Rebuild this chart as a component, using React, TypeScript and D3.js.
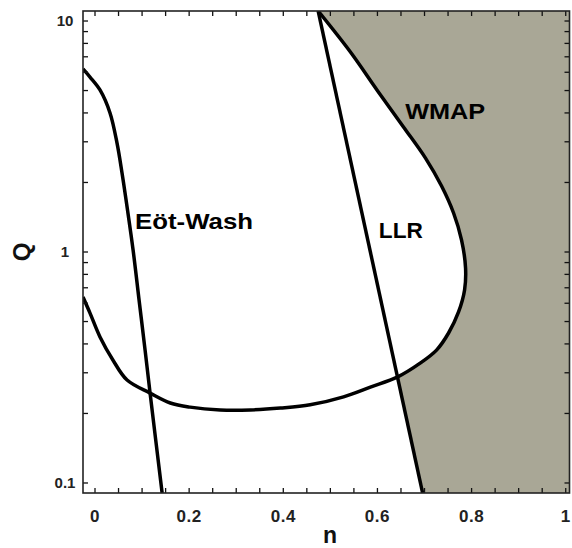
import React from "react";
import * as d3 from "d3";

// ---- data ----
const eotWashN = [-0.0255, -0.0106, 0.0106, 0.0319, 0.0468, 0.0574, 0.066, 0.0809, 0.0936, 0.1064, 0.117, 0.1426];
const eotWashQ = [6.2, 5.72, 5.03, 4.0, 2.96, 2.2, 1.68, 1.02, 0.62, 0.376, 0.245, 0.0905];

const wmapN = [-0.0255, -0.0106, 0.0106, 0.0383, 0.0681, 0.117, 0.16, 0.202, 0.266, 0.33, 0.394, 0.457, 0.528, 0.585, 0.643, 0.6915, 0.7255, 0.7511, 0.7723, 0.7851, 0.7872, 0.7787, 0.7617, 0.7362, 0.7021, 0.6553, 0.602, 0.5426, 0.474];
const wmapQ = [0.638, 0.544, 0.429, 0.34, 0.279, 0.245, 0.222, 0.213, 0.207, 0.207, 0.211, 0.218, 0.236, 0.26, 0.288, 0.331, 0.376, 0.446, 0.55, 0.685, 0.852, 1.127, 1.475, 1.93, 2.55, 3.48, 4.93, 7.34, 11.05];

const llrN = [0.474, 0.696];
const llrQ = [11.05, 0.0905];

const xTickValues = [0, 0.2, 0.4, 0.6, 0.8, 1];
const xTickLabels = ["0", "0.2", "0.4", "0.6", "0.8", "1"];
const xMinorValues = [0, 0.05, 0.1, 0.15, 0.2, 0.25, 0.3, 0.35, 0.4, 0.45, 0.5, 0.55, 0.6, 0.65, 0.7, 0.75, 0.8, 0.85, 0.9, 0.95, 1.0];
const yTickValues = [0.1, 1, 10];
const yTickLabels = ["0.1", "1", "10"];
const yMinorMultipliers = [2, 3, 4, 5, 6, 7, 8, 9];

const labelTexts = ["Eöt-Wash", "WMAP", "LLR"];
const labelN = [0.085, 0.659, 0.603];
const labelQ = [1.26, 3.75, 1.15];

export default function App() {
  const W = 572, H = 548;
  const left = 83, right = 569.5, top = 11, bottom = 493;
  const x = d3.scaleLinear().domain([-0.0255, 1.008]).range([left, right]);
  const y = d3.scaleLog().domain([0.0905, 11.05]).range([bottom, top]);

  const line = d3.line<[number, number]>().x(d => x(d[0])).y(d => y(d[1])).curve(d3.curveCatmullRom.alpha(0.5));
  const straight = d3.line<[number, number]>().x(d => x(d[0])).y(d => y(d[1]));

  const eot: [number, number][] = eotWashN.map((n, i) => [n, eotWashQ[i]]);
  const wmap: [number, number][] = wmapN.map((n, i) => [n, wmapQ[i]]);
  const llr: [number, number][] = llrN.map((n, i) => [n, llrQ[i]]);

  const [xd0, xd1] = x.domain();
  const [yd0, yd1] = y.domain();
  const grayPoly: [number, number][] = [llr[0], [xd1, yd1], [xd1, yd0], llr[1]];
  const whitePath = line(wmap) + ` L${x(xd0)},${y(yd1)} Z`;

  const yMinor: number[] = [];
  [0.01, 0.1, 1, 10].forEach(d => yMinorMultipliers.forEach(m => {
    const v = d * m;
    if (v > yd0 && v < yd1) yMinor.push(v);
  }));
  const tick = 5;
  const labelWidths = [118, 80, 44];

  return (
    <svg width={W} height={H} style={{ position: "absolute", left: 0, top: 0, background: "#fff" }}
      fontFamily="'Liberation Sans', Arial, sans-serif" fontWeight="bold">
      <defs>
        <clipPath id="plot"><rect x={left} y={top} width={right - left} height={bottom - top} /></clipPath>
      </defs>
      <g clipPath="url(#plot)">
        <path d={straight(grayPoly) + "Z"} fill="#a9a796" />
        <path d={whitePath} fill="#fff" />
        <path d={line(eot) || ""} fill="none" stroke="#000" strokeWidth={3.5} strokeLinejoin="round" />
        <path d={line(wmap) || ""} fill="none" stroke="#000" strokeWidth={3.5} strokeLinejoin="round" />
        <path d={straight(llr) || ""} fill="none" stroke="#000" strokeWidth={3.5} />
      </g>
      <g stroke="#111" strokeWidth={1.3}>
        {xMinorValues.map((v, i) => (
          <g key={"xm" + i}>
            <line x1={x(v)} x2={x(v)} y1={bottom} y2={bottom - tick} />
            <line x1={x(v)} x2={x(v)} y1={top} y2={top + tick} />
          </g>
        ))}
        {[...yMinor, ...yTickValues].map((v, i) => (
          <g key={"ym" + i}>
            <line x1={left} x2={left + tick} y1={y(v)} y2={y(v)} />
            <line x1={right} x2={right - tick} y1={y(v)} y2={y(v)} />
          </g>
        ))}
      </g>
      <rect x={left} y={top} width={right - left} height={bottom - top} fill="none" stroke="#222" strokeWidth={1.6} />
      {xTickValues.map((v, i) => (
        <text key={"xl" + i} x={x(v)} y={522} textAnchor="middle" fontSize={17} letterSpacing={0.5} fill="#222">{xTickLabels[i]}</text>
      ))}
      {yTickValues.map((v, i) => (
        <text key={"yl" + i} x={65} y={y(v) + 5} textAnchor="middle" fontSize={15} fill="#222">{yTickLabels[i]}</text>
      ))}
      <text x={330} y={543} textAnchor="middle" fontSize={23} fill="#111">n</text>
      <text transform={`translate(30,252) rotate(-90)`} textAnchor="middle" fontSize={24} fill="#111">Q</text>
      {labelTexts.map((t, i) => (
        <text key={"lab" + i} x={x(labelN[i])} y={y(labelQ[i])} fontSize={22} fill="#000"
          textLength={labelWidths[i]} lengthAdjust="spacingAndGlyphs">{t}</text>
      ))}
    </svg>
  );
}
